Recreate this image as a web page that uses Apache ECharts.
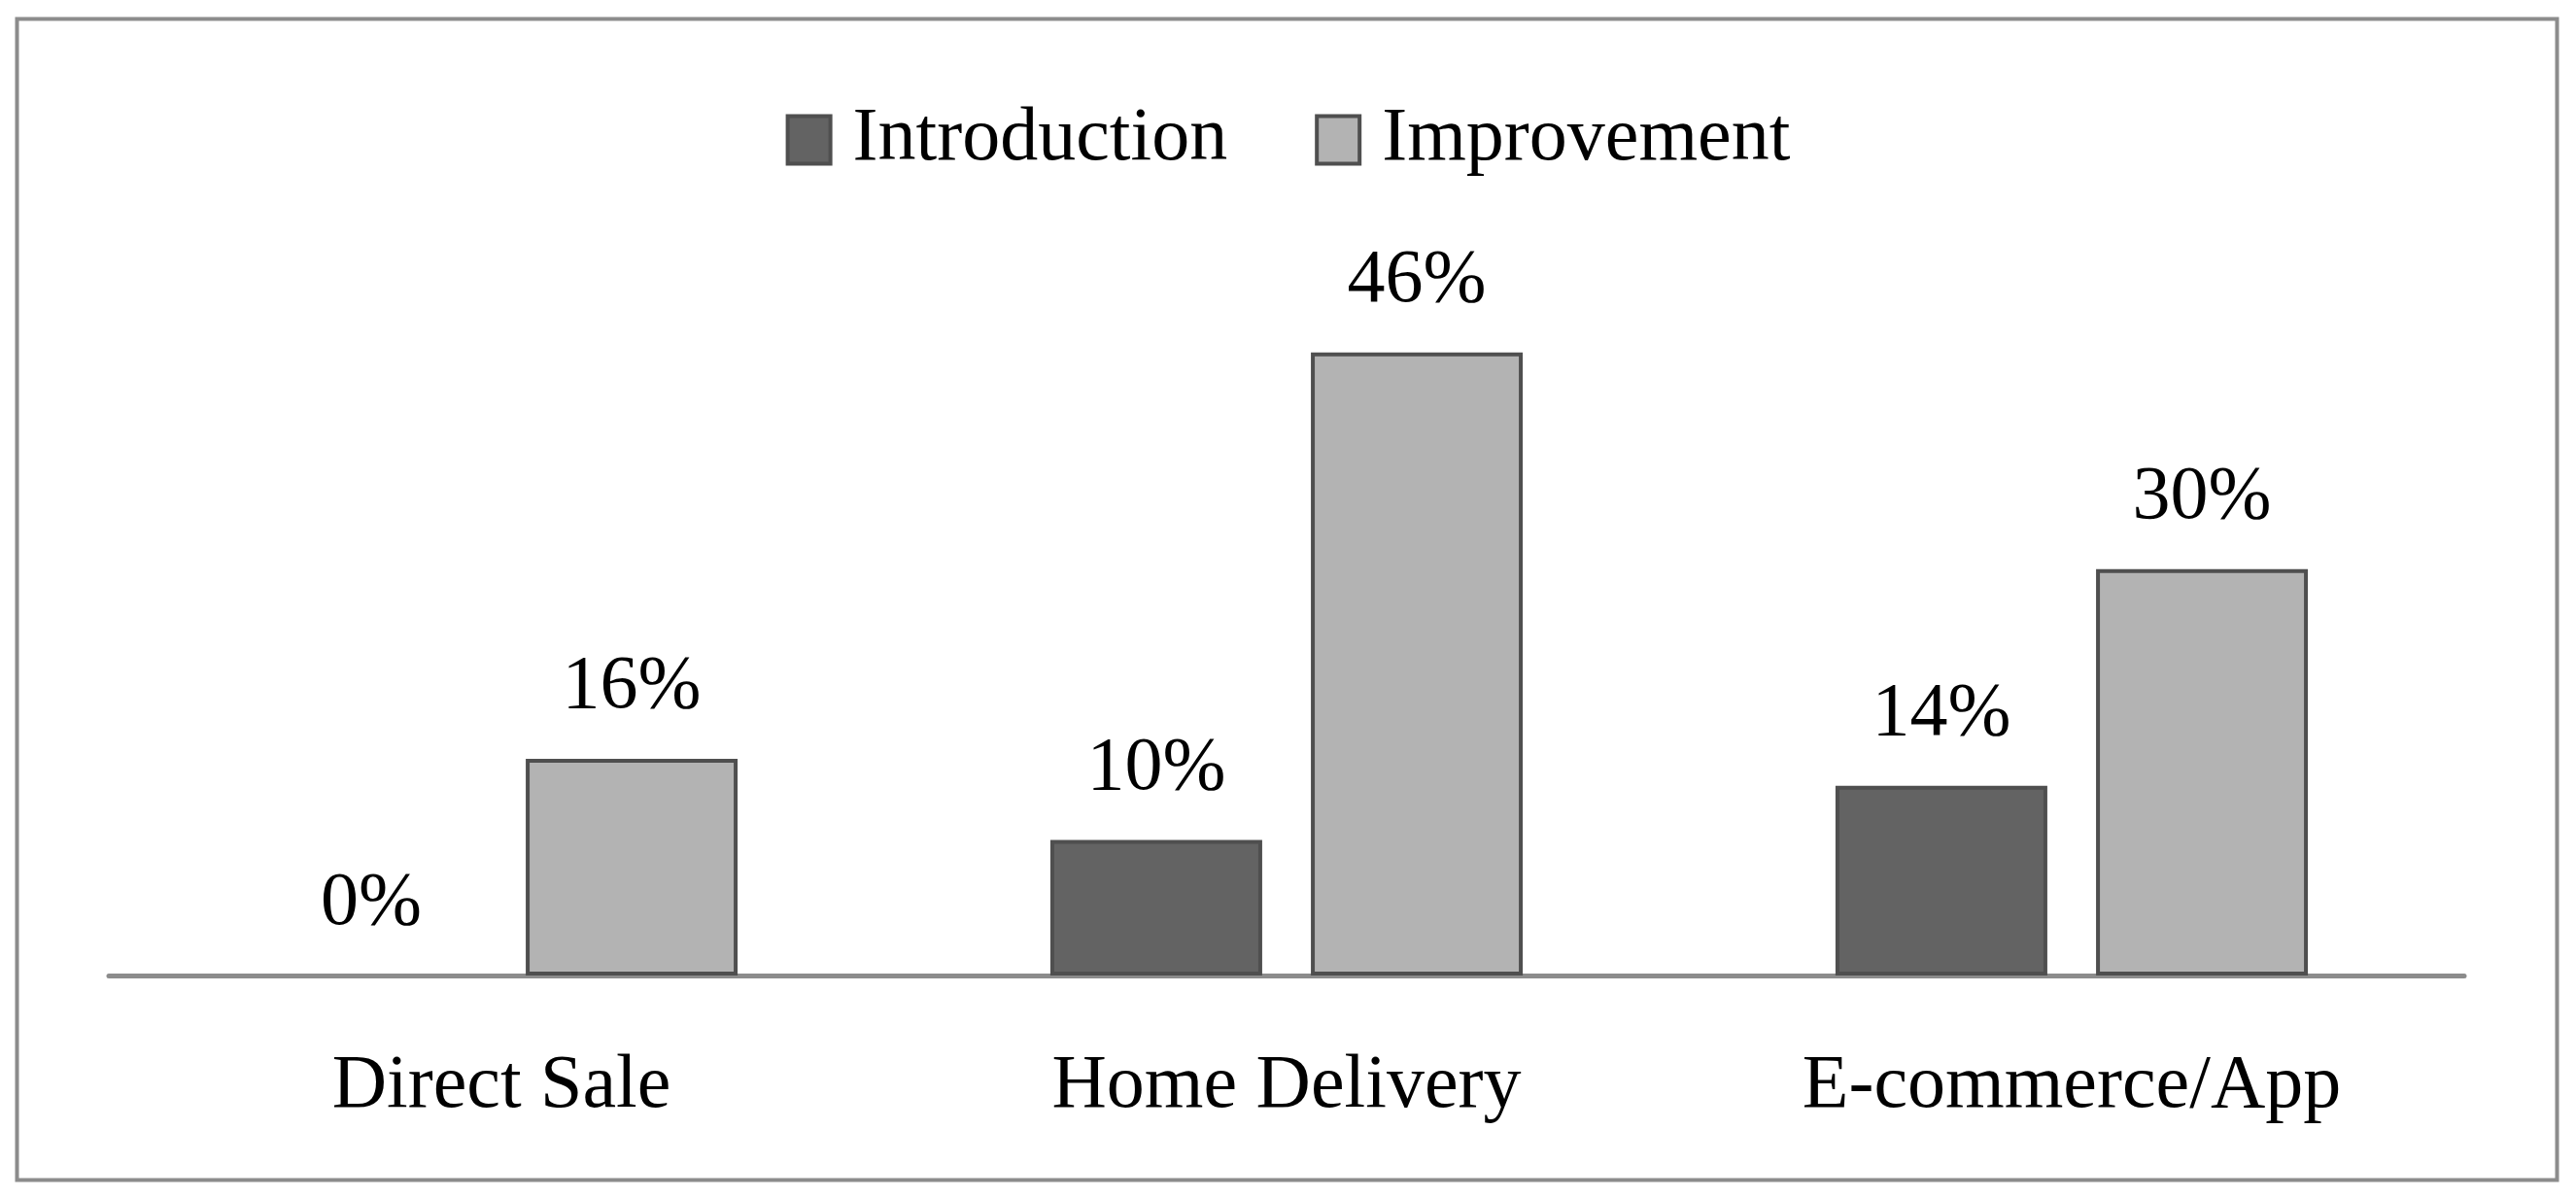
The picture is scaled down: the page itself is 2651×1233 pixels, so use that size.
<!DOCTYPE html>
<html>
<head>
<meta charset="utf-8">
<script src="https://cdn.jsdelivr.net/npm/echarts@6/dist/echarts.min.js"></script>
<style>html,body{margin:0;padding:0;background:#fff}#c{width:2651px;height:1233px}</style>
</head>
<body>
<div id="c"></div>
<script>
const categories = ['Direct Sale', 'Home Delivery', 'E-commerce/App'];
const introduction = [0, 10, 14];
const improvement = [16, 46, 30];
const seriesNames = ['Introduction', 'Improvement'];

const FONT = '"Liberation Serif", "DejaVu Serif", serif';
const FS = 78;
const chart = echarts.init(document.getElementById('c'), null, {renderer: 'canvas'});
const labelCfg = {
  show: true, position: 'top', distance: 34,
  formatter: p => p.value + '%',
  fontFamily: FONT, fontSize: FS, color: '#000'
};
// zero-height bars show no outline
const toItems = arr => arr.map(v => v === 0 ? {value: v, itemStyle: {borderWidth: 0}} : v);
chart.setOption({
  animation: false,
  backgroundColor: '#fff',
  graphic: [{
    type: 'rect', left: 15, top: 17,
    shape: {width: 2614, height: 1195},
    style: {fill: 'none', stroke: '#8c8c8c', lineWidth: 4},
    silent: true
  }],
  legend: {
    top: 100, left: 'center',
    icon: 'rect',
    itemWidth: 44, itemHeight: 49, itemGap: 90,
    itemStyle: {borderColor: '#4f4f4f', borderWidth: 4},
    textStyle: {fontFamily: FONT, fontSize: FS, color: '#000', padding: [0, 0, 0, 18]},
    data: seriesNames
  },
  grid: {left: 112, right: 115, top: 307, bottom: 229},
  xAxis: {
    type: 'category', data: categories,
    axisLine: {lineStyle: {color: '#8c8c8c', width: 5}},
    axisTick: {show: false},
    axisLabel: {fontFamily: FONT, fontSize: FS, color: '#000', margin: 76}
  },
  yAxis: {type: 'value', min: 0, max: 50, show: false, splitLine: {show: false}},
  series: [
    {
      name: seriesNames[0], type: 'bar', data: toItems(introduction),
      barWidth: 218, barGap: '23%',
      itemStyle: {color: '#636363', borderColor: '#4f4f4f', borderWidth: 4},
      label: labelCfg
    },
    {
      name: seriesNames[1], type: 'bar', data: toItems(improvement),
      barWidth: 218, barGap: '23%',
      itemStyle: {color: '#b3b3b3', borderColor: '#4f4f4f', borderWidth: 4},
      label: labelCfg
    }
  ]
});
</script>
</body>
</html>
